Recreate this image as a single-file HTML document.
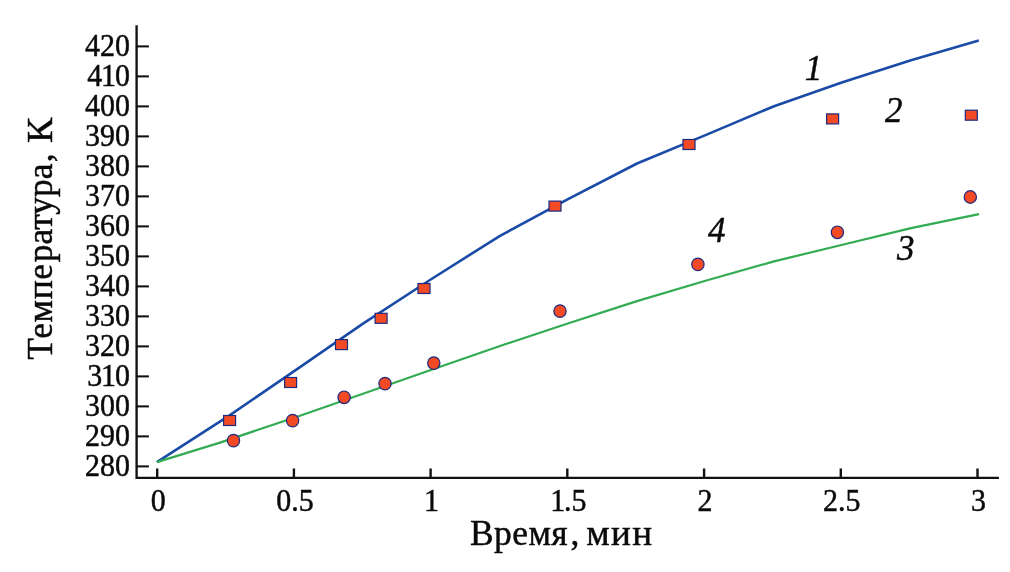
<!DOCTYPE html>
<html><head><meta charset="utf-8"><title>chart</title>
<style>
html,body{margin:0;padding:0;background:#fff;}
body{width:1010px;height:572px;overflow:hidden;font-family:"Liberation Serif",serif;}
svg{display:block;will-change:transform;}
text{font-family:"Liberation Serif",serif;fill:#0a0a0a;stroke:#0a0a0a;stroke-width:0.45px;}
.t{font-size:30px;}
.a{font-size:35.5px;}
.i{font-size:35px;font-style:italic;}
</style></head><body>
<svg width="1010" height="572" viewBox="0 0 1010 572">
<rect width="1010" height="572" fill="#fff"/>

<g stroke="#111" fill="none">
<path d="M136.6,25.3 V477.9 H998.9" stroke-width="2.35"/>
<path d="M136.6,46.4 H148.9" stroke-width="2.05"/>
<path d="M136.6,76.4 H148.9" stroke-width="2.05"/>
<path d="M136.6,106.4 H148.9" stroke-width="2.05"/>
<path d="M136.6,136.4 H148.9" stroke-width="2.05"/>
<path d="M136.6,166.4 H148.9" stroke-width="2.05"/>
<path d="M136.6,196.4 H148.9" stroke-width="2.05"/>
<path d="M136.6,226.4 H148.9" stroke-width="2.05"/>
<path d="M136.6,256.4 H148.9" stroke-width="2.05"/>
<path d="M136.6,286.4 H148.9" stroke-width="2.05"/>
<path d="M136.6,316.4 H148.9" stroke-width="2.05"/>
<path d="M136.6,346.4 H148.9" stroke-width="2.05"/>
<path d="M136.6,376.4 H148.9" stroke-width="2.05"/>
<path d="M136.6,406.4 H148.9" stroke-width="2.05"/>
<path d="M136.6,436.4 H148.9" stroke-width="2.05"/>
<path d="M136.6,466.4 H148.9" stroke-width="2.05"/>
<path d="M157.2,468.5 V478" stroke-width="2.4"/>
<path d="M293.9,468.5 V478" stroke-width="2.4"/>
<path d="M430.6,468.5 V478" stroke-width="2.4"/>
<path d="M567.3,468.5 V478" stroke-width="2.4"/>
<path d="M704.1,468.5 V478" stroke-width="2.4"/>
<path d="M840.8,468.5 V478" stroke-width="2.4"/>
<path d="M977.5,468.5 V478" stroke-width="2.4"/>
</g>
<text class="t" transform="translate(129.9,56.3) scale(1,1.07)" text-anchor="end">420</text>
<text class="t" transform="translate(129.9,86.3) scale(1,1.07)" text-anchor="end">4<tspan dx="-1.2">1</tspan><tspan dx="-1.2">0</tspan></text>
<text class="t" transform="translate(129.9,116.3) scale(1,1.07)" text-anchor="end">400</text>
<text class="t" transform="translate(129.9,146.3) scale(1,1.07)" text-anchor="end">390</text>
<text class="t" transform="translate(129.9,176.3) scale(1,1.07)" text-anchor="end">380</text>
<text class="t" transform="translate(129.9,206.3) scale(1,1.07)" text-anchor="end">370</text>
<text class="t" transform="translate(129.9,236.3) scale(1,1.07)" text-anchor="end">360</text>
<text class="t" transform="translate(129.9,266.3) scale(1,1.07)" text-anchor="end">350</text>
<text class="t" transform="translate(129.9,296.3) scale(1,1.07)" text-anchor="end">340</text>
<text class="t" transform="translate(129.9,326.3) scale(1,1.07)" text-anchor="end">330</text>
<text class="t" transform="translate(129.9,356.3) scale(1,1.07)" text-anchor="end">320</text>
<text class="t" transform="translate(129.9,386.3) scale(1,1.07)" text-anchor="end">3<tspan dx="-1.2">1</tspan><tspan dx="-1.2">0</tspan></text>
<text class="t" transform="translate(129.9,416.3) scale(1,1.07)" text-anchor="end">300</text>
<text class="t" transform="translate(129.9,446.3) scale(1,1.07)" text-anchor="end">290</text>
<text class="t" transform="translate(129.9,476.3) scale(1,1.07)" text-anchor="end">280</text>
<text class="t" transform="translate(158.2,510.8) scale(1,1.07)" text-anchor="middle">0</text>
<text class="t" transform="translate(294.9,510.8) scale(1,1.07)" text-anchor="middle">0.5</text>
<text class="t" transform="translate(431.6,510.8) scale(1,1.07)" text-anchor="middle">1</text>
<text class="t" transform="translate(568.3,510.8) scale(1,1.07)" text-anchor="middle">1<tspan dx="-1.2">.</tspan>5</text>
<text class="t" transform="translate(705.1,510.8) scale(1,1.07)" text-anchor="middle">2</text>
<text class="t" transform="translate(841.8,510.8) scale(1,1.07)" text-anchor="middle">2.5</text>
<text class="t" transform="translate(978.5,510.8) scale(1,1.07)" text-anchor="middle">3</text>
<text class="a" x="470.0" y="544.7" style="letter-spacing:0.4px">Время</text>
<text class="a" x="570.6" y="544.7">,</text>
<text class="a" transform="translate(586.2,544.7) scale(1.045,1)" style="letter-spacing:1.3px">мин</text>
<text class="a" transform="translate(51.8,359.7) rotate(-90)" style="letter-spacing:0.6px">Темпе</text>
<text class="a" transform="translate(51.8,262.3) rotate(-90)" style="letter-spacing:0px">ратура</text>
<text class="a" transform="translate(51.8,162.3) rotate(-90)">,</text>
<text class="a" transform="translate(51.8,143.1) rotate(-90) scale(1.07,1)">К</text>
<path d="M156.9,462.1 L229.2,415.6 L300.0,367.1 L363.0,323.6 L431.5,279.0 L500.0,235.8 L568.5,198.8 L637.0,163.5 L705.5,135.1 L774.0,106.2 L842.5,82.2 L911.0,60.3 L978.8,40.6" fill="none" stroke="#1a4ba6" stroke-width="2.6" stroke-linejoin="round"/>
<path d="M156.9,462.1 L220.0,442.6 L300.0,415.7 L363.0,393.7 L431.5,369.8 L500.0,346.0 L568.5,323.3 L637.0,301.1 L705.5,280.7 L774.0,261.4 L842.5,244.7 L911.0,228.1 L979.0,214.2" fill="none" stroke="#32ab52" stroke-width="2.2" stroke-linejoin="round"/>
<rect x="223.6" y="415.5" width="12" height="10" fill="#f24a24" stroke="#1c2a80" stroke-width="1.2"/>
<rect x="284.6" y="377.5" width="12" height="10" fill="#f24a24" stroke="#1c2a80" stroke-width="1.2"/>
<rect x="335.5" y="339.6" width="12" height="10" fill="#f24a24" stroke="#1c2a80" stroke-width="1.2"/>
<rect x="375.1" y="313.3" width="12" height="10" fill="#f24a24" stroke="#1c2a80" stroke-width="1.2"/>
<rect x="418.0" y="283.5" width="12" height="10" fill="#f24a24" stroke="#1c2a80" stroke-width="1.2"/>
<rect x="549.0" y="201.1" width="12" height="10" fill="#f24a24" stroke="#1c2a80" stroke-width="1.2"/>
<rect x="683.0" y="139.5" width="12" height="10" fill="#f24a24" stroke="#1c2a80" stroke-width="1.2"/>
<rect x="826.6" y="113.9" width="12" height="10" fill="#f24a24" stroke="#1c2a80" stroke-width="1.2"/>
<rect x="965.3" y="110.2" width="12" height="10" fill="#f24a24" stroke="#1c2a80" stroke-width="1.2"/>
<ellipse cx="233.5" cy="440.6" rx="6.15" ry="6.3" fill="#f24a24" stroke="#1c2a80" stroke-width="1.2"/>
<ellipse cx="292.6" cy="420.6" rx="6.15" ry="6.3" fill="#f24a24" stroke="#1c2a80" stroke-width="1.2"/>
<ellipse cx="344.1" cy="397.3" rx="6.15" ry="6.3" fill="#f24a24" stroke="#1c2a80" stroke-width="1.2"/>
<ellipse cx="385.0" cy="383.6" rx="6.15" ry="6.3" fill="#f24a24" stroke="#1c2a80" stroke-width="1.2"/>
<ellipse cx="433.8" cy="363.1" rx="6.15" ry="6.3" fill="#f24a24" stroke="#1c2a80" stroke-width="1.2"/>
<ellipse cx="560.0" cy="311.1" rx="6.15" ry="6.3" fill="#f24a24" stroke="#1c2a80" stroke-width="1.2"/>
<ellipse cx="697.9" cy="264.4" rx="6.15" ry="6.3" fill="#f24a24" stroke="#1c2a80" stroke-width="1.2"/>
<ellipse cx="837.4" cy="232.3" rx="6.15" ry="6.3" fill="#f24a24" stroke="#1c2a80" stroke-width="1.2"/>
<ellipse cx="970.3" cy="197.0" rx="6.15" ry="6.3" fill="#f24a24" stroke="#1c2a80" stroke-width="1.2"/>
<text class="i" x="804.8" y="80.1">1</text>
<text class="i" x="885" y="122.3">2</text>
<text class="i" x="897" y="260.3">3</text>
<text class="i" x="708" y="242">4</text>
</svg></body></html>
